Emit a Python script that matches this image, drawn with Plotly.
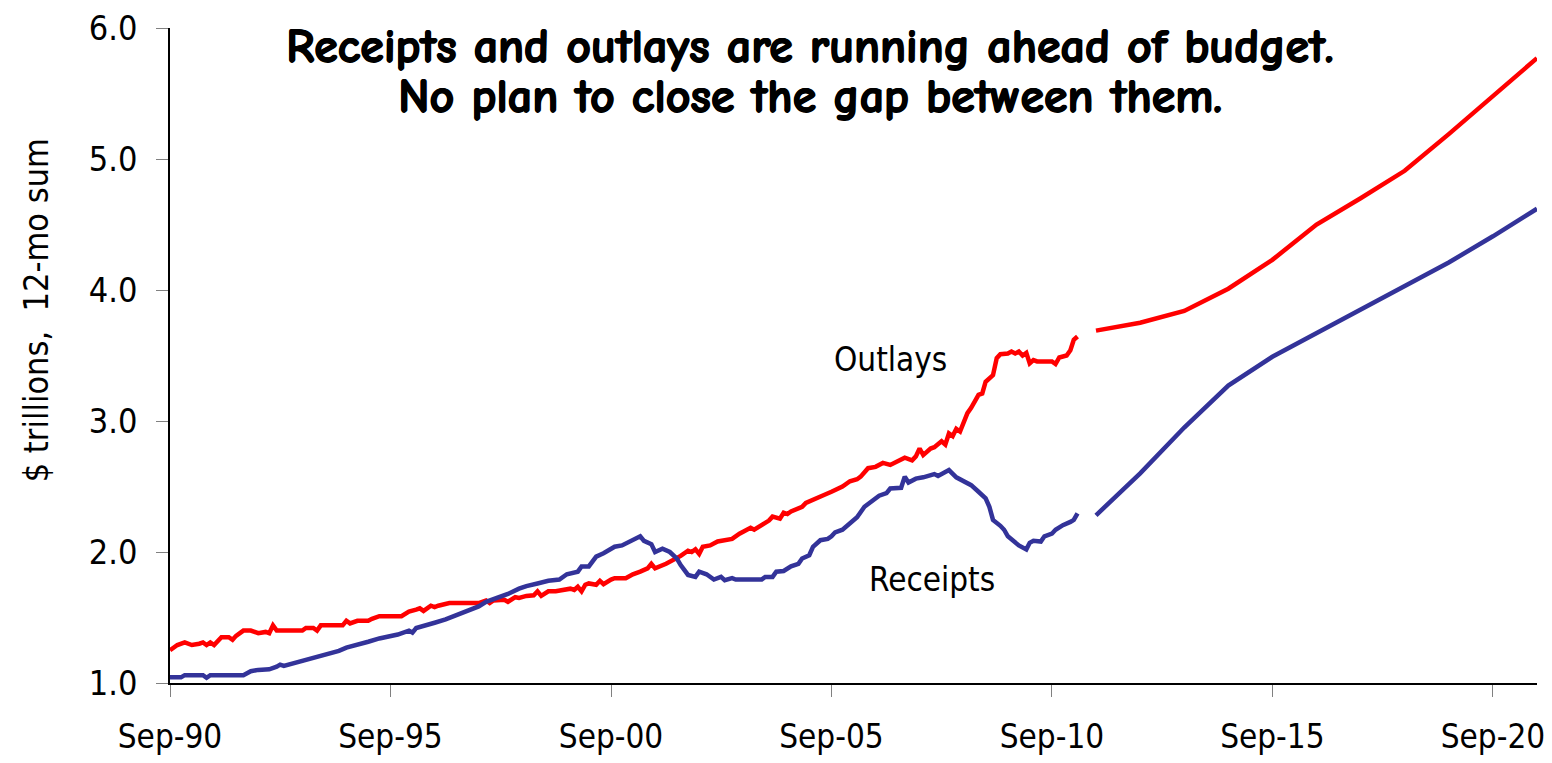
import pandas as pd
import plotly.graph_objects as go

# ---------------- data ----------------
BASE_MONTH = "1990-09-01"   # month index 0 = Sep-1990

outlays_month_idx = [0, 2, 4, 6, 8, 9, 10, 11, 12, 14, 16, 17, 18, 20, 22, 24, 26, 27, 28, 29,
                     36, 37, 39, 40, 41, 47, 48, 49, 51, 54, 55, 57, 63, 65, 67, 68, 69, 71, 72, 73,
                     76, 84, 86, 87, 88, 91, 92, 94, 95, 97, 99, 100, 101, 103, 105, 107, 109, 110, 111, 112,
                     113, 114, 116, 117, 118, 120, 121, 124, 126, 128, 130, 131, 132, 135, 137, 139, 141, 142, 143, 144,
                     145, 147, 149, 151, 153, 155, 158, 159, 161, 163, 164, 166, 167, 168, 169, 172, 173, 174, 176, 178,
                     180, 182, 183, 185, 187, 188, 190, 192, 194, 196, 198, 200, 202, 203, 204, 205, 207, 208, 210, 211,
                     212, 213, 214, 215, 217, 218, 220, 221, 222, 224, 225, 226, 228, 229, 230, 231, 232, 233, 234, 235,
                     236, 240, 241, 242, 244, 245, 246, 247]
outlays_values = [1.25, 1.29, 1.31, 1.29, 1.30, 1.31, 1.29, 1.31, 1.29, 1.35, 1.35, 1.33, 1.36, 1.40, 1.40, 1.38, 1.39, 1.38, 1.44, 1.40,
                  1.40, 1.42, 1.42, 1.40, 1.44, 1.44, 1.475, 1.455, 1.475, 1.475, 1.49, 1.51, 1.51, 1.545, 1.56, 1.57, 1.55, 1.59, 1.58, 1.59,
                  1.61, 1.61, 1.63, 1.61, 1.63, 1.635, 1.62, 1.655, 1.65, 1.665, 1.67, 1.70, 1.665, 1.70, 1.70, 1.71, 1.72, 1.71, 1.735, 1.70,
                  1.75, 1.76, 1.75, 1.78, 1.755, 1.79, 1.80, 1.80, 1.83, 1.85, 1.875, 1.91, 1.875, 1.91, 1.94, 1.97, 2.01, 2.00, 2.02, 1.985,
                  2.04, 2.05, 2.08, 2.09, 2.10, 2.14, 2.185, 2.17, 2.21, 2.24, 2.27, 2.255, 2.30, 2.29, 2.31, 2.345, 2.375, 2.385, 2.41, 2.435,
                  2.46, 2.485, 2.50, 2.54, 2.555, 2.575, 2.64, 2.65, 2.68, 2.665, 2.69, 2.72, 2.70, 2.73, 2.79, 2.74, 2.79, 2.80, 2.845, 2.82,
                  2.905, 2.885, 2.94, 2.92, 3.06, 3.10, 3.20, 3.21, 3.30, 3.35, 3.48, 3.51, 3.515, 3.53, 3.515, 3.53, 3.50, 3.52, 3.44, 3.465,
                  3.455, 3.455, 3.435, 3.485, 3.50, 3.54, 3.62, 3.645]

receipts_month_idx = [0, 3, 4, 9, 10, 11, 20, 22, 24, 27, 29, 30, 31, 33, 35, 38, 40, 43, 46, 48,
                      51, 54, 57, 60, 62, 65, 66, 67, 70, 72, 75, 78, 81, 84, 86, 89, 92, 95, 97, 100,
                      103, 106, 108, 111, 112, 114, 116, 118, 120, 121, 123, 125, 128, 129, 131, 132, 134, 136, 138, 139,
                      141, 143, 144, 146, 148, 150, 151, 153, 154, 161, 162, 164, 165, 167, 169, 171, 172, 174, 175, 177,
                      179, 180, 181, 183, 185, 187, 189, 191, 193, 195, 196, 199, 200, 201, 203, 205, 208, 209, 211, 212,
                      214, 216, 218, 220, 222, 223, 224, 226, 227, 228, 230, 231, 233, 234, 235, 237, 238, 240, 241, 243,
                      245, 246, 247]
receipts_values = [1.043, 1.043, 1.06, 1.06, 1.04, 1.06, 1.06, 1.09, 1.10, 1.105, 1.125, 1.14, 1.13, 1.145, 1.16, 1.18, 1.20, 1.225, 1.245, 1.27,
                   1.29, 1.315, 1.34, 1.36, 1.37, 1.40, 1.385, 1.42, 1.44, 1.46, 1.485, 1.52, 1.555, 1.585, 1.62, 1.65, 1.68, 1.72, 1.74, 1.76,
                   1.78, 1.79, 1.83, 1.85, 1.89, 1.89, 1.965, 1.99, 2.02, 2.04, 2.05, 2.08, 2.12, 2.085, 2.06, 2.00, 2.025, 2.00, 1.95, 1.90,
                   1.825, 1.81, 1.85, 1.83, 1.79, 1.81, 1.785, 1.80, 1.79, 1.79, 1.81, 1.81, 1.85, 1.855, 1.89, 1.91, 1.95, 1.975, 2.04, 2.09,
                   2.10, 2.12, 2.15, 2.17, 2.22, 2.265, 2.345, 2.385, 2.43, 2.45, 2.485, 2.49, 2.575, 2.53, 2.56, 2.57, 2.595, 2.58, 2.615, 2.625,
                   2.57, 2.54, 2.51, 2.46, 2.41, 2.345, 2.245, 2.20, 2.17, 2.12, 2.08, 2.05, 2.02, 2.07, 2.085, 2.08, 2.12, 2.14, 2.17, 2.205,
                   2.23, 2.245, 2.295]

projection_dates = ["2011-09-01", "2012-09-01", "2013-09-01", "2014-09-01", "2015-09-01", "2016-09-01",
                    "2017-09-01", "2018-09-01", "2019-09-01", "2020-09-01", "2021-09-01"]
outlays_projection = [3.69, 3.75, 3.84, 4.01, 4.23, 4.50, 4.70, 4.91, 5.19, 5.48, 5.77]
receipts_projection = [2.28, 2.60, 2.95, 3.27, 3.49, 3.67, 3.85, 4.03, 4.21, 4.41, 4.62]

x_tick_dates = ["1990-09-01", "1995-09-01", "2000-09-01", "2005-09-01", "2010-09-01", "2015-09-01", "2020-09-01"]
x_tick_labels = ["Sep-90", "Sep-95", "Sep-00", "Sep-05", "Sep-10", "Sep-15", "Sep-20"]
y_tick_vals = [1, 2, 3, 4, 5, 6]
y_tick_labels = ["1.0", "2.0", "3.0", "4.0", "5.0", "6.0"]

title_lines = ["Receipts and outlays are running ahead of budget.", "No plan to close the gap between them."]
y_title = "$ trillions,  12-mo sum"

assert len(outlays_month_idx) == len(outlays_values)
assert len(receipts_month_idx) == len(receipts_values)

base = pd.Timestamp(BASE_MONTH)
def to_dates(idx):
    return [base + pd.DateOffset(months=int(m)) for m in idx]

RED = "#FF0000"
BLUE = "#333399"
NARROW = "Liberation Sans Narrow, Arial Narrow, DejaVu Sans Condensed, sans-serif"
COMIC = "Comic Sans MS, Comic Neue, Open Sans, sans-serif"

fig = go.Figure()
fig.add_trace(go.Scatter(x=to_dates(outlays_month_idx), y=outlays_values, mode="lines",
                         line=dict(color=RED, width=4.5), name="Outlays", hoverinfo="skip"))
fig.add_trace(go.Scatter(x=to_dates(receipts_month_idx), y=receipts_values, mode="lines",
                         line=dict(color=BLUE, width=4.5), name="Receipts", hoverinfo="skip"))
fig.add_trace(go.Scatter(x=pd.to_datetime(projection_dates), y=outlays_projection, mode="lines",
                         line=dict(color=RED, width=4.5), name="Outlays (budget)", hoverinfo="skip"))
fig.add_trace(go.Scatter(x=pd.to_datetime(projection_dates), y=receipts_projection, mode="lines",
                         line=dict(color=BLUE, width=4.5), name="Receipts (budget)", hoverinfo="skip"))

# page body has an 8px margin on every side: keep the figure inside the 1552x763 window
fig.update_layout(
    width=1536, height=747,
    margin=dict(l=162, r=7, t=20, b=72),
    paper_bgcolor="white", plot_bgcolor="white",
    showlegend=False,
    font=dict(family=NARROW, color="black"),
)
fig.update_xaxes(
    type="date", range=["1990-09-01", "2021-09-01"], automargin=False,
    tickmode="array", tickvals=x_tick_dates, ticktext=x_tick_labels,
    tickfont=dict(size=33, family=NARROW, color="black"),
    ticks="outside", ticklen=12, tickcolor="#808080", tickwidth=1,
    showline=True, linecolor="black", linewidth=1.5,
    showgrid=False, zeroline=False, ticklabelstandoff=12,
    ticklabeloverflow="allow",
)
fig.update_yaxes(
    range=[1, 6], automargin=False,
    tickmode="array", tickvals=y_tick_vals, ticktext=y_tick_labels,
    tickfont=dict(size=34, family=NARROW, color="black"),
    ticks="outside", ticklen=12, tickcolor="#808080", tickwidth=1,
    showline=True, linecolor="black", linewidth=1.5,
    showgrid=False, zeroline=False, ticklabelstandoff=12,
    ticklabeloverflow="allow",
)

# y-axis title
fig.add_annotation(xref="paper", yref="paper", x=-0.098, y=0.569, text=y_title, textangle=-90,
                   showarrow=False, xanchor="center", yanchor="middle",
                   font=dict(size=34, family=NARROW, color="black"))

# chart title (two lines)
title_font = dict(family=COMIC, size=48, color="black", weight="bold",
                  shadow="1px 0 0 black, -0.5px 0 0 black, 0 0.6px 0 black")
fig.add_annotation(xref="paper", yref="paper", x=0.468, y=0.971, text="<b>" + title_lines[0] + "</b>",
                   showarrow=False, xanchor="center", yanchor="middle", font=title_font)
fig.add_annotation(xref="paper", yref="paper", x=0.468, y=0.895, text="<b>" + title_lines[1] + "</b>",
                   showarrow=False, xanchor="center", yanchor="middle", font=title_font)

# series labels
fig.add_annotation(x="2007-01-01", y=3.47, xref="x", yref="y", text="Outlays", showarrow=False,
                   xanchor="center", yanchor="middle", font=dict(size=33, family=NARROW, color="black"))
fig.add_annotation(x="2007-12-15", y=1.79, xref="x", yref="y", text="Receipts", showarrow=False,
                   xanchor="center", yanchor="middle", font=dict(size=33, family=NARROW, color="black"))

fig.write_html("out.html")
